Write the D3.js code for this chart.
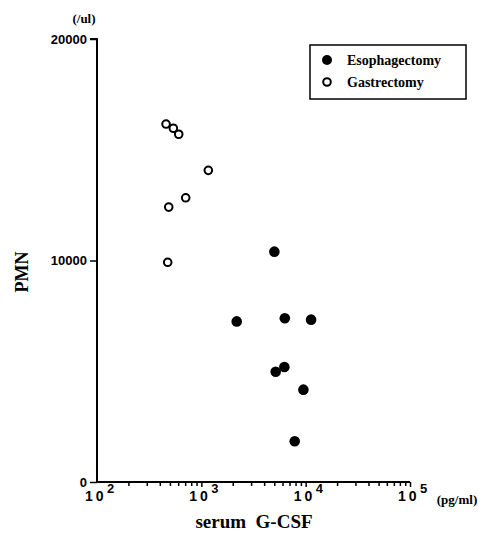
<!DOCTYPE html>
<html>
<head>
<meta charset="utf-8">
<script src="https://cdn.jsdelivr.net/npm/d3@7"></script>
<style>
  html, body { margin: 0; padding: 0; background: #fff; }
  svg { display: block; }
</style>
</head>
<body>
<div id="chart"></div>
<script>
// Serum G-CSF (pg/ml) vs PMN count (/ul) after surgery
const esophagectomyGCSF = [5012, 2183, 6310, 11270, 6250, 5160, 9510, 7850];
const esophagectomyPMN  = [10400, 7250, 7390, 7330, 5190, 4980, 4170, 1840];
const gastrectomyGCSF   = [459, 539, 607, 1167, 708, 487, 476];
const gastrectomyPMN    = [16160, 15970, 15700, 14070, 12830, 12410, 9920];

const xDecades = [100, 1000, 10000, 100000];
const xExponents = ["2", "3", "4", "5"];
const yTicks = [0, 10000, 20000];
const legendLabels = ["Esophagectomy", "Gastrectomy"];

const W = 478, H = 544;
const svg = d3.select("#chart").append("svg")
  .attr("width", W).attr("height", H);

const x = d3.scaleLog().domain([100, 100000]).range([97, 410]);
const y = d3.scaleLinear().domain([0, 20000]).range([482, 39]);

const serif = "'Liberation Serif', 'Times New Roman', serif";
const sans = "'Liberation Sans', Arial, sans-serif";

// Y axis
const yAxis = d3.axisLeft(y).tickValues(yTicks).tickSize(7).tickPadding(3)
  .tickFormat(d3.format("d"));
const gy = svg.append("g").attr("transform", `translate(${x(100)},0)`).call(yAxis);
gy.select(".domain").attr("stroke-width", 2).attr("d", `M-7,${y(20000)}H0V${y(0)}`);
gy.selectAll(".tick line").attr("stroke-width", 1.5);
gy.selectAll(".tick text").attr("font-family", sans).attr("font-size", 13)
  .attr("font-weight", "bold").attr("fill", "#000");

// X axis: decade ticks plus minor ticks 2..9
const minorTicks = [];
for (let d = 100; d < 100000; d *= 10) for (let k = 2; k <= 9; k++) minorTicks.push(d * k);
const xAxisMinor = d3.axisBottom(x).tickValues(minorTicks).tickSize(4).tickFormat("");
const gxm = svg.append("g").attr("transform", `translate(0,${y(0)})`).call(xAxisMinor);
gxm.select(".domain").attr("stroke-width", 2).attr("d", `M${x(100)},0H${x(100000)}`);
gxm.selectAll(".tick line").attr("stroke-width", 1.5);

const xAxisMajor = d3.axisBottom(x).tickValues(xDecades.slice(1)).tickSize(5).tickFormat("");
const gx = svg.append("g").attr("transform", `translate(0,${y(0)})`).call(xAxisMajor);
gx.select(".domain").remove();
gx.selectAll(".tick line").attr("stroke-width", 1.5);

// Decade labels: spaced "1 0" base with a raised exponent beside it
const decLab = svg.append("g");
decLab.selectAll("text.base").data(xDecades).join("text")
  .attr("class", "base")
  .attr("x", d => x(d) - 12)
  .attr("y", 501)
  .attr("font-family", sans).attr("font-size", 14).attr("font-weight", "bold")
  .attr("letter-spacing", 3)
  .text("10");
decLab.selectAll("text.exp").data(xDecades).join("text")
  .attr("class", "exp")
  .attr("x", d => x(d) + 10)
  .attr("y", 493)
  .attr("font-family", sans).attr("font-size", 13).attr("font-weight", "bold")
  .text((d, i) => xExponents[i]);

// Axis titles and units
svg.append("text").attr("x", 84).attr("y", 23).attr("text-anchor", "middle")
  .attr("font-family", serif).attr("font-weight", "bold").attr("font-size", 13)
  .text("(/ul)");
svg.append("text").attr("x", 457).attr("y", 504).attr("text-anchor", "middle")
  .attr("font-family", serif).attr("font-weight", "bold").attr("font-size", 13)
  .text("(pg/ml)");
svg.append("text").attr("x", 254).attr("y", 528).attr("text-anchor", "middle")
  .attr("font-family", serif).attr("font-weight", "bold").attr("font-size", 19)
  .attr("xml:space", "preserve")
  .text("serum  G-CSF");
svg.append("text").attr("transform", "translate(28,272) rotate(-90)")
  .attr("text-anchor", "middle")
  .attr("font-family", serif).attr("font-weight", "bold").attr("font-size", 18)
  .text("PMN");

// Points
const esoData = esophagectomyGCSF.map((v, i) => ({ g: v, p: esophagectomyPMN[i] }));
const gasData = gastrectomyGCSF.map((v, i) => ({ g: v, p: gastrectomyPMN[i] }));

svg.append("g").selectAll("circle").data(gasData).join("circle")
  .attr("cx", d => x(d.g)).attr("cy", d => y(d.p)).attr("r", 3.8)
  .attr("fill", "#fff").attr("stroke", "#000").attr("stroke-width", 2);
svg.append("g").selectAll("circle").data(esoData).join("circle")
  .attr("cx", d => x(d.g)).attr("cy", d => y(d.p)).attr("r", 5.3)
  .attr("fill", "#000");

// Legend
const lg = svg.append("g");
lg.append("rect").attr("x", 310).attr("y", 45).attr("width", 156).attr("height", 54)
  .attr("fill", "none").attr("stroke", "#000").attr("stroke-width", 1.5);
const items = lg.selectAll("g.item").data(legendLabels).join("g")
  .attr("class", "item")
  .attr("transform", (d, i) => `translate(0,${60 + i * 22})`);
items.append("circle").attr("cx", 327).attr("cy", 0)
  .attr("r", (d, i) => i === 0 ? 5 : 3.8)
  .attr("fill", (d, i) => i === 0 ? "#000" : "#fff")
  .attr("stroke", "#000").attr("stroke-width", (d, i) => i === 0 ? 0 : 2);
items.append("text").attr("x", 347).attr("y", 5)
  .attr("font-family", serif).attr("font-weight", "bold").attr("font-size", 14)
  .text(d => d);
</script>
</body>
</html>
